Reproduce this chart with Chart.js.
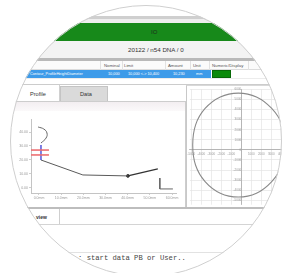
<!DOCTYPE html>
<html lang="en">
<head>
<meta charset="UTF-8">
<title>Profile</title>
<script src="https://cdn.jsdelivr.net/npm/chart.js"></script>
<style>
*{margin:0;padding:0;box-sizing:border-box}
body{width:285px;height:273px;background:#fff;overflow:hidden;font-family:'Liberation Sans',Arial,sans-serif;position:relative;color:#333}
.lens{position:absolute;left:0;top:0;width:285px;height:273px;clip-path:circle(136px at 146px 141px);background:#fff}
.ring{position:absolute;left:10px;top:5px;width:272px;height:272px;border-radius:50%;border:1px solid #cfcfcf}
.a{position:absolute;white-space:nowrap}
.hdr{font-size:4.3px;color:#555;top:63px}
.cell{font-size:3.8px;color:#fff;top:72px}
.vsep{position:absolute;top:61px;height:9px;width:1px;background:#e2e2e2}
</style>
</head>
<body>
<div class="lens">
  <!-- top bars -->
  <div class="a" style="left:0;top:16px;width:285px;height:3px;background:#cfcfcf"></div>
  <div class="a" style="left:0;top:19px;width:285px;height:4px;background:#eeeeee"></div>
  <div class="a" style="left:0;top:23px;width:285px;height:18px;background:#17891a"></div>
  <div class="a" style="left:151px;top:29px;font-size:6px;color:#1d2f1d">IO</div>
  <div class="a" style="left:0;top:41px;width:285px;height:17px;background:#f3f3f3"></div>
  <div class="a" style="left:128px;top:46px;font-size:6.2px;color:#333">20122 / n54 DNA / 0</div>
  <div class="a" style="left:0;top:58px;width:285px;height:3px;background:#b9b9b9"></div>

  <!-- table header -->
  <div class="a" style="left:0;top:61px;width:285px;height:9px;background:#fbfbfb;border-bottom:1px solid #dcdcdc"></div>
  <div class="vsep" style="left:100px"></div>
  <div class="vsep" style="left:122px"></div>
  <div class="vsep" style="left:165px"></div>
  <div class="vsep" style="left:190px"></div>
  <div class="vsep" style="left:209px"></div>
  <div class="vsep" style="left:248px"></div>
  <div class="a hdr" style="left:104px">Nominal</div>
  <div class="a hdr" style="left:124px">Limit</div>
  <div class="a hdr" style="left:168px">Amount</div>
  <div class="a hdr" style="left:193px">Unit</div>
  <div class="a hdr" style="left:212px">Numeric/Display</div>

  <!-- selected row -->
  <div class="a" style="left:0;top:70px;width:211px;height:8px;background:#3e9be9"></div>
  <div class="a cell" style="left:30px">Contour_ProfileHeightDiameter</div>
  <div class="a cell" style="left:108px">10,000</div>
  <div class="a cell" style="left:128px">10,000 &lt;-&gt; 10,400</div>
  <div class="a cell" style="left:173px">10,230</div>
  <div class="a cell" style="left:196px">mm</div>
  <div class="a" style="left:212px;top:70px;width:19px;height:8px;background:#0b8a0b;border:1px solid #086808"></div>
  <div class="a" style="left:0;top:78px;width:285px;height:1px;background:#ececec"></div>
  <div class="a" style="left:0;top:84px;width:285px;height:1px;background:#cccccc"></div>

  <!-- tabs -->
  <div class="a" style="left:12px;top:85px;width:48px;height:17px;background:#fff;border-right:1px solid #d0d0d0"></div>
  <div class="a" style="left:30px;top:91px;font-size:5.6px;color:#333">Profile</div>
  <div class="a" style="left:60px;top:86px;width:48px;height:15px;background:#dadada;border:1px solid #c4c4c4;border-bottom:none"></div>
  <div class="a" style="left:80px;top:91px;font-size:5.6px;color:#333">Data</div>

  <!-- left panel -->
  <div class="a" style="left:8px;top:101px;width:178px;height:107px;border:1px solid #cdcdcd;background:#fff"></div>
  <div class="a" style="left:9px;top:102px;width:176px;height:9px;background:linear-gradient(#f3eef1,#fbf9fa)"></div>
  <div class="a" style="left:11px;top:111px;width:173px;height:94px"><canvas id="profileChart"></canvas></div>

  <!-- right panel -->
  <div class="a" style="left:186px;top:85px;width:100px;height:123px;border-left:1px solid #c8c8c8;border-top:1px solid #d8d8d8;background:#fff"></div>
  <div class="a" style="left:187px;top:87px;width:98px;height:120px"><canvas id="roundChart"></canvas></div>

  <!-- bottom -->
  <div class="a" style="left:0;top:207px;width:285px;height:2px;background:#bdbdbd"></div>
  <div class="a" style="left:36px;top:214px;font-size:5px;font-weight:bold;color:#333">view</div>
  <div class="a" style="left:59px;top:209px;width:1px;height:15px;background:#cfcfcf"></div>
  <div class="a" style="left:0;top:224px;width:285px;height:1px;background:#d4d4d4"></div>
  <div class="a" style="left:0;top:252px;width:285px;height:1px;background:#e2e2e2"></div>
  <div class="a" style="left:78px;top:254px;font-family:'Liberation Mono','DejaVu Sans Mono',monospace;font-size:7.2px;color:#444">: start data PB or User..</div>
</div>
<div class="ring"></div>

<script>
// profile chart (mm)
const profXTicks = [0, 10, 20, 30, 40, 50, 60];
const profXLabels = ['0.0mm', '10.0mm', '20.0mm', '30.0mm', '40.0mm', '50.0mm', '60.0mm'];
const profYTicks = [0, 10, 20, 30, 40];
const profYLabels = ['0.00', '10.00', '20.00', '30.00', '40.00'];

const hookX = [-0.4, 2.2, 3.6, 3.2, 0.9];
const hookY = [43.6, 42.1, 39.3, 35.7, 32.1];
const blueX = [0.9, 0.9];
const blueY = [30.7, 20.0];
const mainX = [0.9, 19.8, 40.1];
const mainY = [20.0, 9.3, 8.6];
const riseX = [40.1, 53.6];
const riseY = [8.6, 13.6];
const tailX = [54.5, 54.5, 60.4];
const tailY = [7.1, -0.7, -0.7];
const limitLowY = 23.6;
const limitHighY = 27.1;
const limitX = [-3.6, 4.5];
const markX = [40.1];
const markY = [8.6];

// roundness chart
const circTicks = [-5000, -4000, -3000, -2000, -1000, 0, 1000, 2000, 3000, 4000, 5000, 6000];
const circleX = [4480, 4100, 3050, 1520, -290, -2100, -3620, -4570, -4860, -4570, -3620, -2100, -290, 1520, 3050, 4100, 4480];
const circleY = [480, 2480, 4100, 5240, 5620, 5240, 4100, 2480, 480, -1520, -3140, -4290, -4670, -4290, -3140, -1520, 480];

const pts = (xs, ys) => xs.map((x, i) => ({ x, y: ys[i] }));

new Chart(document.getElementById('profileChart'), {
  type: 'scatter',
  data: {
    datasets: [
      { data: pts(hookX, hookY), borderColor: '#666', borderWidth: 1, tension: 0.45 },
      { data: pts(limitX, [limitHighY, limitHighY]), borderColor: '#ec6f72', borderWidth: 1.6 },
      { data: pts(limitX, [limitLowY, limitLowY]), borderColor: '#ec6f72', borderWidth: 1.6 },
      { data: pts(blueX, blueY), borderColor: '#4a4ad8', borderWidth: 1.4 },
      { data: pts(mainX, mainY), borderColor: '#5a5a5a', borderWidth: 1 },
      { data: pts(riseX, riseY), borderColor: '#333', borderWidth: 1.3 },
      { data: pts(tailX, tailY), borderColor: '#666', borderWidth: 1 },
      { data: pts(markX, markY), showLine: false, pointRadius: 1.4, backgroundColor: '#333', borderColor: '#333' }
    ].map(d => Object.assign({ showLine: true, pointRadius: 0, clip: false }, d))
  },
  options: {
    responsive: true,
    maintainAspectRatio: false,
    animation: false,
    layout: { padding: { top: 8, right: 8, left: 0, bottom: 0 } },
    plugins: { legend: { display: false }, tooltip: { enabled: false } },
    scales: {
      x: {
        type: 'linear', min: -3.6, max: 61.8,
        afterBuildTicks: s => { s.ticks = profXTicks.map(v => ({ value: v })); },
        afterFit: s => { s.height = 12; },
        grid: { drawOnChartArea: false, tickLength: 2, color: '#cfcfcf' },
        border: { color: '#c4c4c4' },
        ticks: { font: { size: 3.5 }, color: '#999', padding: 1, maxRotation: 0, autoSkip: false, callback: (v, i) => profXLabels[i] }
      },
      y: {
        type: 'linear', min: -3.6, max: 49.3,
        afterBuildTicks: s => { s.ticks = profYTicks.map(v => ({ value: v })); },
        afterFit: s => { s.width = 20; },
        grid: { drawOnChartArea: false, tickLength: 2, color: '#cfcfcf' },
        border: { color: '#c4c4c4' },
        ticks: { font: { size: 3.5 }, color: '#999', padding: 1, autoSkip: false, callback: (v, i) => profYLabels[i] }
      }
    }
  }
});

new Chart(document.getElementById('roundChart'), {
  type: 'scatter',
  data: {
    datasets: [{ data: pts(circleX, circleY), showLine: true, pointRadius: 0, borderColor: '#8a8a8a', borderWidth: 1.1, tension: 0.4 }]
  },
  options: {
    responsive: true,
    maintainAspectRatio: false,
    animation: false,
    layout: { padding: 0 },
    plugins: { legend: { display: false }, tooltip: { enabled: false } },
    scales: {
      x: {
        type: 'linear', min: -5140, max: 4190, position: { y: 0 },
        afterBuildTicks: s => { s.ticks = circTicks.filter(v => v >= s.min && v <= s.max).map(v => ({ value: v })); },
        grid: { color: '#e4e4e4', lineWidth: 0.7, tickLength: 1.5 },
        border: { color: '#a8a8a8', width: 0.8 },
        ticks: { font: { size: 3 }, color: '#9a9a9a', padding: 0.5, maxRotation: 0, autoSkip: false, callback: v => v === 0 ? '' : v.toFixed(0) }
      },
      y: {
        type: 'linear', min: -5430, max: 6000, position: { x: 0 },
        afterBuildTicks: s => { s.ticks = circTicks.filter(v => v >= s.min && v <= s.max).map(v => ({ value: v })); },
        grid: { color: '#e4e4e4', lineWidth: 0.7, tickLength: 1.5 },
        border: { color: '#a8a8a8', width: 0.8 },
        ticks: { font: { size: 3 }, color: '#9a9a9a', padding: 0.5, autoSkip: false, callback: v => v.toFixed(0) }
      }
    }
  }
});
</script>
</body>
</html>
